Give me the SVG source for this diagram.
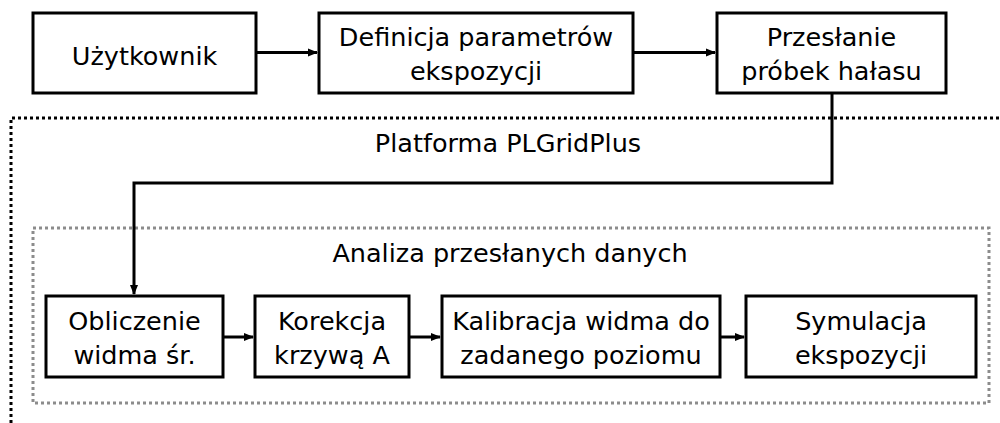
<svg xmlns="http://www.w3.org/2000/svg" width="1000" height="423" viewBox="0 0 1000 423">
<style>
.box{fill:#fff;stroke:#000;stroke-width:3}
.t{font-family:"DejaVu Sans",sans-serif;font-size:25.5px;fill:#000;text-anchor:middle}
.c{fill:none;stroke:#000;stroke-width:3}
</style>
<defs>
<marker id="ah" markerWidth="10" markerHeight="10" refX="9" refY="5" orient="auto" markerUnits="userSpaceOnUse">
<path d="M0,1 L10,5 L0,9 z" fill="#000"/>
</marker>
</defs>
<rect width="1000" height="423" fill="#fff"/>
<g id="platform">
<path d="M11,423 L11,118 L1000,118" fill="none" stroke="#000" stroke-width="3" stroke-dasharray="3,3"/>
<text class="t" x="508" y="152">Platforma PLGridPlus</text>
</g>
<g id="analiza">
<rect x="33" y="228" width="956" height="175" fill="none" stroke="#8c8c8c" stroke-width="3" stroke-dasharray="3,3"/>
<text class="t" x="510" y="262">Analiza przesłanych danych</text>
</g>
<g id="connectors">
<path class="c" d="M256,52.5 L317,52.5" marker-end="url(#ah)"/>
<path class="c" d="M633,52.5 L715,52.5" marker-end="url(#ah)"/>
<path class="c" d="M832,92 L832,183 L134,183 L134,294" marker-end="url(#ah)"/>
<path class="c" d="M223,337 L253,337" marker-end="url(#ah)"/>
<path class="c" d="M409,337 L440,337" marker-end="url(#ah)"/>
<path class="c" d="M720,337 L744,337" marker-end="url(#ah)"/>
</g>
<g id="n1"><rect class="box" x="33" y="13" width="223" height="80"/><text class="t" x="144.5" y="65">Użytkownik</text></g>
<g id="n2"><rect class="box" x="319" y="13" width="314" height="80"/><text class="t" x="476" y="46">Definicja parametrów</text><text class="t" x="476" y="80">ekspozycji</text></g>
<g id="n3"><rect class="box" x="717" y="13" width="229" height="80"/><text class="t" x="831.5" y="46">Przesłanie</text><text class="t" x="831.5" y="80">próbek hałasu</text></g>
<g id="n4"><rect class="box" x="46" y="296" width="177" height="81"/><text class="t" x="134.5" y="330">Obliczenie</text><text class="t" x="134.5" y="364">widma śr.</text></g>
<g id="n5"><rect class="box" x="255" y="296" width="154" height="81"/><text class="t" x="332" y="330">Korekcja</text><text class="t" x="332" y="364">krzywą A</text></g>
<g id="n6"><rect class="box" x="442" y="296" width="278" height="81"/><text class="t" x="581" y="330">Kalibracja widma do</text><text class="t" x="581" y="364">zadanego poziomu</text></g>
<g id="n7"><rect class="box" x="746" y="296" width="230" height="81"/><text class="t" x="861" y="330">Symulacja</text><text class="t" x="861" y="364">ekspozycji</text></g>
</svg>
